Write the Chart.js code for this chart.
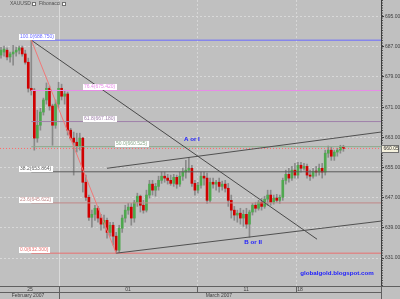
<!DOCTYPE html>
<html>
<head>
<meta charset="utf-8">
<script src="https://cdn.jsdelivr.net/npm/chart.js@4.4.1/dist/chart.umd.min.js"></script>
<style>
  html, body { margin: 0; padding: 0; background: #c0c0c0; }
  canvas { display: block; }
</style>
</head>
<body>
<canvas id="xauChart" width="400" height="299"></canvas>
<script>
// XAUUSD candles with Fibonacci retracement - late Feb / March 2007

// candles (one per bar, left to right)
const opens = [
  684.8, 685.6, 686.1, 684.3, 685.1, 685.6, 686.1, 686.7, 685.1, 682.9,
  676.0, 675.5, 662.8, 666.2, 669.7, 672.9, 676.0, 671.3, 666.2, 671.8,
  676.0, 673.9, 674.5, 664.9, 662.8, 661.7, 660.7, 662.8, 651.1, 647.1,
  641.8, 642.6, 644.2, 641.6, 640.0, 641.0, 637.8, 639.7, 636.8, 633.1,
  638.9, 641.6, 643.7, 644.5, 641.6, 645.8, 647.4, 645.0, 643.7, 647.7,
  650.6, 649.0, 650.0, 651.6, 652.7, 652.2, 651.6, 650.8, 652.4, 650.6,
  652.7, 653.8, 654.3, 654.8, 650.8, 649.0, 650.3, 652.7, 652.2, 646.3,
  651.1, 650.6, 651.1, 650.0, 650.6, 649.5, 646.3, 643.7, 642.4, 642.9,
  641.6, 642.6, 640.0, 643.2, 645.0, 644.2, 645.8, 644.7, 646.6, 647.7,
  645.8, 646.9, 646.3, 647.1, 651.6, 653.2, 652.2, 654.3, 653.0, 655.6,
  654.8, 655.3, 653.0, 652.7, 654.0, 653.8, 654.8, 653.8, 658.8, 659.6,
  658.0, 659.1, 659.6, 660.4
];
const highs = [
  686.9, 687.2, 686.7, 685.6, 687.4, 686.9, 687.2, 687.2, 686.1, 684.0,
  688.75, 676.0, 670.2, 670.7, 673.4, 677.4, 676.6, 671.8, 672.9, 677.6,
  677.1, 675.5, 675.0, 665.4, 664.4, 664.1, 664.1, 663.0, 653.0, 647.7,
  643.7, 645.0, 644.7, 642.6, 642.4, 641.6, 640.5, 640.5, 637.8, 639.7,
  642.4, 645.0, 645.5, 645.5, 646.3, 648.2, 647.7, 646.3, 649.0, 651.6,
  651.6, 650.8, 652.7, 653.8, 653.8, 653.2, 653.0, 653.2, 653.0, 653.8,
  654.8, 656.9, 657.7, 655.6, 651.6, 651.1, 653.8, 653.8, 653.5, 652.2,
  652.2, 651.6, 652.2, 651.4, 651.6, 650.8, 647.7, 644.7, 643.7, 644.2,
  643.7, 644.2, 643.7, 645.5, 645.8, 646.3, 646.9, 647.4, 649.0, 649.0,
  647.7, 647.9, 647.7, 652.2, 654.3, 654.8, 655.3, 656.1, 656.4, 656.4,
  656.1, 655.9, 654.3, 654.8, 655.3, 655.9, 656.1, 659.6, 660.7, 660.4,
  659.6, 660.1, 660.9, 660.9
];
const lows = [
  684.0, 684.5, 683.5, 682.9, 682.1, 684.5, 685.1, 684.5, 682.4, 675.0,
  674.2, 659.6, 661.7, 664.9, 668.9, 671.8, 670.2, 660.9, 665.4, 670.7,
  672.9, 671.8, 663.6, 662.3, 653.0, 659.1, 659.6, 648.5, 646.3, 641.0,
  639.2, 641.0, 640.5, 638.4, 638.9, 636.3, 636.8, 634.4, 632.3, 632.5,
  637.8, 640.5, 642.6, 639.7, 640.5, 644.7, 643.2, 642.9, 643.2, 646.9,
  647.7, 647.4, 649.0, 650.8, 651.1, 650.6, 650.3, 650.0, 649.5, 650.0,
  651.6, 652.2, 653.8, 650.0, 647.7, 648.2, 649.5, 650.3, 645.5, 645.8,
  649.5, 649.0, 648.5, 649.0, 648.5, 644.7, 641.6, 641.0, 640.5, 640.0,
  639.4, 638.9, 636.5, 642.4, 643.2, 643.7, 643.7, 644.2, 645.0, 645.0,
  645.3, 645.8, 645.5, 646.3, 650.6, 651.1, 651.6, 652.2, 652.2, 653.8,
  654.3, 652.2, 651.6, 652.2, 652.7, 653.0, 652.2, 653.0, 657.7, 656.9,
  656.9, 658.0, 658.8, 659.3
];
const closes = [
  686.1, 686.4, 684.3, 685.1, 685.6, 686.1, 686.7, 685.1, 682.9, 676.0,
  675.5, 662.8, 666.2, 669.7, 672.9, 676.0, 671.3, 666.2, 671.8, 676.0,
  673.9, 674.5, 664.9, 662.8, 661.7, 660.7, 662.8, 651.1, 647.1, 641.8,
  642.6, 644.2, 641.6, 640.0, 641.0, 637.8, 639.7, 636.8, 633.1, 638.9,
  641.6, 643.7, 644.5, 641.6, 645.8, 647.4, 645.0, 643.7, 647.7, 650.6,
  649.0, 650.0, 651.6, 652.7, 652.2, 651.6, 650.8, 652.4, 650.6, 652.7,
  653.8, 654.3, 654.8, 650.8, 649.0, 650.3, 652.7, 652.2, 646.3, 651.1,
  650.6, 651.1, 650.0, 650.6, 649.5, 646.3, 643.7, 642.4, 642.9, 641.6,
  642.6, 640.0, 643.2, 645.0, 644.2, 645.8, 644.7, 646.6, 647.7, 645.8,
  646.9, 646.3, 647.1, 651.6, 653.2, 652.2, 654.3, 653.0, 655.6, 654.8,
  655.3, 653.0, 652.7, 654.0, 653.8, 654.8, 653.8, 658.8, 659.6, 658.0,
  659.1, 659.6, 660.4, 660.05
];
const lastPrice = 660.05;

// fibonacci levels
const fibNames = ['100.0', '76.4', '61.8', '50.0', '38.2', '23.6', '0.0'];
const fibLevels = [688.75, 675.42, 667.18, 660.525, 653.864, 645.622, 632.3];
const fibLabelBars = [5.9, 27.1, 27.1, 37.6, 5.9, 5.9, 5.9];
const fibStart = [10, 688.75];
const fibEnd = [38, 632.3];

// trend lines [bar, price]
const downTrend = [[10, 688.75], [104.3, 636.0]];
const upperChannel = [[35, 654.8], [125.4, 664.4]];
const lowerChannel = [[38, 632.3], [125.4, 640.8]];

// text notes [text, bar, price]
const notes = [['A or I', 63.0, 662.5], ['B or II', 83.2, 635.3], ['globalgold.blogspot.com', 110.9, 627.0]];

// axes
const yTicks = [631, 639, 647, 655, 663, 671, 679, 687, 695];
const dayLabels = ['25', '01', '11', '18'];
const dayLabelBars = [9.6, 41.9, 80.9, 98.7];
const monthLabels = ['February 2007', 'March 2007'];
const monthLabelBars = [8.9, 71.9];
const monthSeparatorBars = [19.1];
const daySeparatorBars = [64.7, 97.4];

const xMin = -0.33, xMax = 125.41;
const yMin = 623.6, yMax = 699.4;

const FONT = '"Liberation Sans", Arial, sans-serif';
const fibColors = ['#6a6aff', '#e88ae8', '#9f80aa', '#8aa88a', '#5a5a5a', '#c08888', '#e87070'];

const wickData = lows.map((l, i) => ({ x: i, y: [l, highs[i]] }));
const bodyData = opens.map((o, i) => ({ x: i, y: [o, closes[i]] }));
const bodyColors = opens.map((o, i) => closes[i] >= o ? '#4fa84f' : '#d00000');

function seg(points, color, extra) {
  return Object.assign({
    type: 'line',
    data: points.map(p => ({ x: p[0], y: p[1] })),
    borderColor: color,
    borderWidth: 1,
    pointRadius: 0,
    fill: false,
    order: 1
  }, extra || {});
}

const datasets = [
  { data: wickData, backgroundColor: '#8a8a8a', barThickness: 1, grouped: false, order: 4 },
  { data: bodyData, backgroundColor: bodyColors, barThickness: 2, grouped: false, minBarLength: 1, order: 3 }
];
fibLevels.forEach((lv, k) => {
  datasets.push(seg([[fibStart[0], lv], [xMax, lv]], fibColors[k], { order: 2 }));
});
datasets.push(seg([fibStart, fibEnd], '#f07878'));
datasets.push(seg(downTrend, '#4a4a4a'));
datasets.push(seg(upperChannel, '#505050'));
datasets.push(seg(lowerChannel, '#505050'));
datasets.push(seg([[xMin, lastPrice], [xMax, lastPrice]], '#ff6a6a', { borderDash: [1, 2] }));

const mt4Plugin = {
  id: 'mt4',
  beforeDraw(chart) {
    const ctx = chart.ctx;
    ctx.save();
    ctx.fillStyle = '#c0c0c0';
    ctx.fillRect(0, 0, chart.width, chart.height);
    ctx.restore();
  },
  beforeDatasetsDraw(chart) {
    const { ctx, chartArea: a, scales: { x } } = chart;
    ctx.save();
    ctx.lineWidth = 1;
    ctx.strokeStyle = '#dadada';
    monthSeparatorBars.forEach(v => {
      const px = Math.round(x.getPixelForValue(v)) + 0.5;
      ctx.beginPath(); ctx.moveTo(px, a.top); ctx.lineTo(px, a.bottom); ctx.stroke();
    });
    ctx.setLineDash([2, 2]);
    ctx.strokeStyle = '#d6d6d6';
    daySeparatorBars.forEach(v => {
      const px = Math.round(x.getPixelForValue(v)) + 0.5;
      ctx.beginPath(); ctx.moveTo(px, a.top); ctx.lineTo(px, a.bottom); ctx.stroke();
    });
    ctx.restore();
  },
  afterDatasetsDraw(chart) {
    const { ctx, scales: { x, y } } = chart;
    ctx.save();
    ctx.font = '5px ' + FONT;
    ctx.textBaseline = 'middle';
    ctx.textAlign = 'left';
    fibNames.forEach((name, k) => {
      const txt = name + '(' + fibLevels[k].toFixed(3) + ')';
      const left = Math.round(x.getPixelForValue(fibLabelBars[k]));
      const py = Math.round(y.getPixelForValue(fibLevels[k]));
      const w = Math.ceil(ctx.measureText(txt).width) + 2;
      ctx.fillStyle = '#ffffff';
      ctx.fillRect(left, py - 6, w, 6);
      ctx.fillStyle = fibColors[k];
      ctx.fillText(txt, left + 1, py - 3);
    });
    ctx.font = 'bold 6.2px ' + FONT;
    ctx.textAlign = 'center';
    ctx.fillStyle = '#1a1aff';
    notes.forEach(n => {
      ctx.fillText(n[0], x.getPixelForValue(n[1]), y.getPixelForValue(n[2]));
    });
    ctx.restore();
  },
  afterDraw(chart) {
    const { ctx, chartArea: a, scales: { x, y } } = chart;
    ctx.save();
    ctx.lineWidth = 1;

    // dotted minor ticks along price axis
    ctx.strokeStyle = '#505050';
    ctx.setLineDash([1, 1.5]);
    ctx.beginPath(); ctx.moveTo(a.right + 1.5, a.top); ctx.lineTo(a.right + 1.5, a.bottom); ctx.stroke();
    ctx.setLineDash([]);

    // last price tag
    const py = y.getPixelForValue(lastPrice);
    ctx.fillStyle = '#f6f2de';
    ctx.fillRect(a.right + 0.5, py - 3.5, 17, 7);
    ctx.strokeStyle = '#707070';
    ctx.strokeRect(a.right + 0.5, Math.round(py - 3.5) + 0.5, 17, 7);
    ctx.fillStyle = '#303030';
    ctx.font = '5px ' + FONT;
    ctx.textBaseline = 'middle';
    ctx.textAlign = 'left';
    ctx.fillText(lastPrice.toFixed(2), a.right + 2.5, py + 0.5);

    // time axis band
    const top = a.bottom + 0.5;
    const mid = a.bottom + 6.5;
    ctx.strokeStyle = '#606060';
    ctx.beginPath();
    ctx.moveTo(0, top); ctx.lineTo(chart.width, top);
    ctx.moveTo(0, mid); ctx.lineTo(a.right, mid);
    ctx.moveTo(a.right + 0.5, a.bottom); ctx.lineTo(a.right + 0.5, chart.height);
    monthSeparatorBars.forEach(v => {
      const px = Math.round(x.getPixelForValue(v)) + 0.5;
      ctx.moveTo(px, a.bottom); ctx.lineTo(px, chart.height);
    });
    daySeparatorBars.forEach(v => {
      const px = Math.round(x.getPixelForValue(v)) + 0.5;
      ctx.moveTo(px, a.bottom); ctx.lineTo(px, mid);
    });
    ctx.stroke();
    ctx.fillStyle = '#404040';
    ctx.textAlign = 'center';
    dayLabels.forEach((t, i) => ctx.fillText(t, x.getPixelForValue(dayLabelBars[i]), a.bottom + 3.5));
    monthLabels.forEach((t, i) => ctx.fillText(t, x.getPixelForValue(monthLabelBars[i]), a.bottom + 10));

    // window title boxes
    ctx.textAlign = 'left';
    ctx.fillStyle = '#505050';
    ctx.fillText('XAUUSD', 10, 4);
    ctx.fillText('Fibonacci', 39, 4);
    [[32, 2], [62, 2]].forEach(b => {
      ctx.fillStyle = '#ffffff';
      ctx.fillRect(b[0], b[1], 4, 4);
      ctx.strokeStyle = '#707070';
      ctx.strokeRect(b[0] + 0.5, b[1] + 0.5, 3, 3);
    });
    ctx.restore();
  }
};

new Chart(document.getElementById('xauChart').getContext('2d'), {
  type: 'bar',
  data: { datasets },
  options: {
    responsive: false,
    animation: false,
    events: [],
    layout: { padding: { left: 0, top: 0, right: 0, bottom: 13 } },
    plugins: { legend: { display: false }, tooltip: { enabled: false } },
    scales: {
      x: { type: 'linear', display: false, min: xMin, max: xMax, offset: false },
      y: {
        position: 'right',
        min: yMin,
        max: yMax,
        afterBuildTicks: s => { s.ticks = yTicks.map(v => ({ value: v })); },
        afterFit: s => { s.width = 19; s.paddingTop = 0; s.paddingBottom = 0; },
        ticks: {
          autoSkip: false,
          padding: 1,
          color: '#404040',
          font: { family: FONT, size: 5 },
          callback: v => Number(v).toFixed(2)
        },
        grid: { color: '#d8d8d8', tickColor: '#404040', tickLength: 3, lineWidth: 1 },
        border: { display: true, color: '#404040', dash: [2, 2] }
      }
    }
  },
  plugins: [mt4Plugin]
});
</script>
</body>
</html>
